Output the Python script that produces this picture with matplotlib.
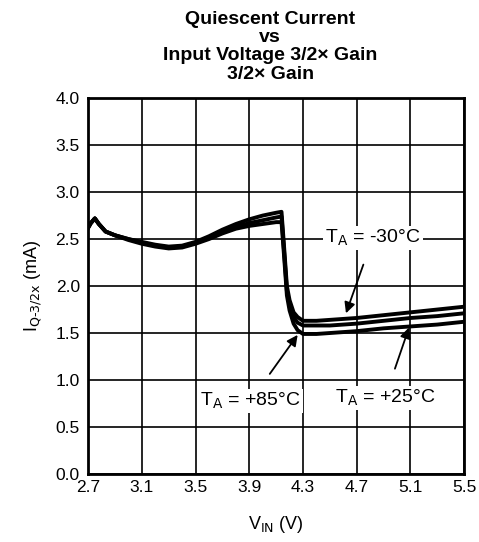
import numpy as np
import matplotlib.pyplot as plt

plt.rcParams['font.family'] = ['Liberation Sans', 'DejaVu Sans']

# input voltage (V)
vin = [2.70, 2.72, 2.75, 2.78, 2.83, 2.90, 3.00, 3.10, 3.20, 3.30, 3.40, 3.50,
       3.60, 3.70, 3.80, 3.90, 4.00, 4.10, 4.14, 4.16, 4.18, 4.20, 4.23, 4.26,
       4.30, 4.40, 4.50, 4.70, 4.90, 5.10, 5.30, 5.50]
# quiescent current (mA) per ambient temperature
iq_m30 = [2.62, 2.67, 2.72, 2.66, 2.58, 2.54, 2.50, 2.47, 2.44, 2.42, 2.43, 2.47,
          2.53, 2.60, 2.66, 2.71, 2.75, 2.78, 2.79, 2.40, 2.00, 1.85, 1.72, 1.67,
          1.63, 1.63, 1.64, 1.66, 1.69, 1.72, 1.75, 1.78]
iq_p25 = [2.62, 2.67, 2.72, 2.66, 2.58, 2.54, 2.50, 2.46, 2.43, 2.41, 2.42, 2.46,
          2.52, 2.58, 2.63, 2.67, 2.70, 2.73, 2.74, 2.35, 1.95, 1.80, 1.67, 1.61,
          1.58, 1.58, 1.58, 1.60, 1.63, 1.66, 1.68, 1.71]
iq_p85 = [2.62, 2.67, 2.72, 2.66, 2.58, 2.54, 2.49, 2.45, 2.42, 2.40, 2.41, 2.45,
          2.50, 2.56, 2.61, 2.64, 2.66, 2.68, 2.68, 2.30, 1.90, 1.74, 1.60, 1.53,
          1.49, 1.49, 1.50, 1.52, 1.55, 1.57, 1.59, 1.62]

xticks = [2.7, 3.1, 3.5, 3.9, 4.3, 4.7, 5.1, 5.5]
yticks = [0.0, 0.5, 1.0, 1.5, 2.0, 2.5, 3.0, 3.5, 4.0]

fig = plt.figure(figsize=(4.79, 5.42), dpi=100)
ax = fig.add_axes([0.184, 0.1255, 0.785, 0.6935])

for iq in (iq_m30, iq_p25, iq_p85):
    ax.plot(vin, iq, c='black', lw=2.8, solid_joinstyle='round', zorder=3)

ax.set_xlim(2.7, 5.5)
ax.set_ylim(0, 4)
ax.set_xticks(xticks)
ax.set_xticklabels(['%.1f' % t for t in xticks])
ax.set_yticks(yticks)
ax.set_yticklabels(['%.1f' % t for t in yticks])
ax.tick_params(length=0, labelsize=12.5)
ax.tick_params(axis='x', pad=4)
ax.tick_params(axis='y', pad=6)
ax.grid(True, color='black', lw=1.2)
for s in ax.spines.values():
    s.set_linewidth(2.0)

ax.set_xlabel('V$_{\\text{IN}}$ (V)', fontsize=13, labelpad=14)
ax.set_ylabel('I$_{\\text{Q-3/2x}}$ (mA)', fontsize=13, labelpad=8)
title = ax.set_title('Quiescent Current\nvs\nInput Voltage 3/2\u00d7 Gain\n3/2\u00d7 Gain',
                     fontsize=14, fontweight='bold', pad=14, x=0.484)
title.set_linespacing(1.1)

box = dict(boxstyle='square,pad=0.1', fc='white', ec='none')
arr = dict(arrowstyle='-|>', color='black', lw=1.3, mutation_scale=16)
ax.annotate('T$_{\\text{A}}$ = -30\u00b0C', xy=(4.62, 1.71), xytext=(4.82, 2.51),
            ha='center', va='center', fontsize=14, bbox=box, zorder=4,
            arrowprops=dict(arr, shrinkA=11, shrinkB=0))
ax.annotate('T$_{\\text{A}}$ = +85\u00b0C', xy=(4.26, 1.48), xytext=(3.91, 0.78),
            ha='center', va='center', fontsize=14, bbox=box, zorder=4,
            arrowprops=dict(arr, shrinkA=13, shrinkB=0))
ax.annotate('T$_{\\text{A}}$ = +25\u00b0C', xy=(5.09, 1.56), xytext=(4.91, 0.81),
            ha='center', va='center', fontsize=14, bbox=box, zorder=4,
            arrowprops=dict(arr, shrinkA=13, shrinkB=0))

plt.savefig('out.png', dpi=100)
